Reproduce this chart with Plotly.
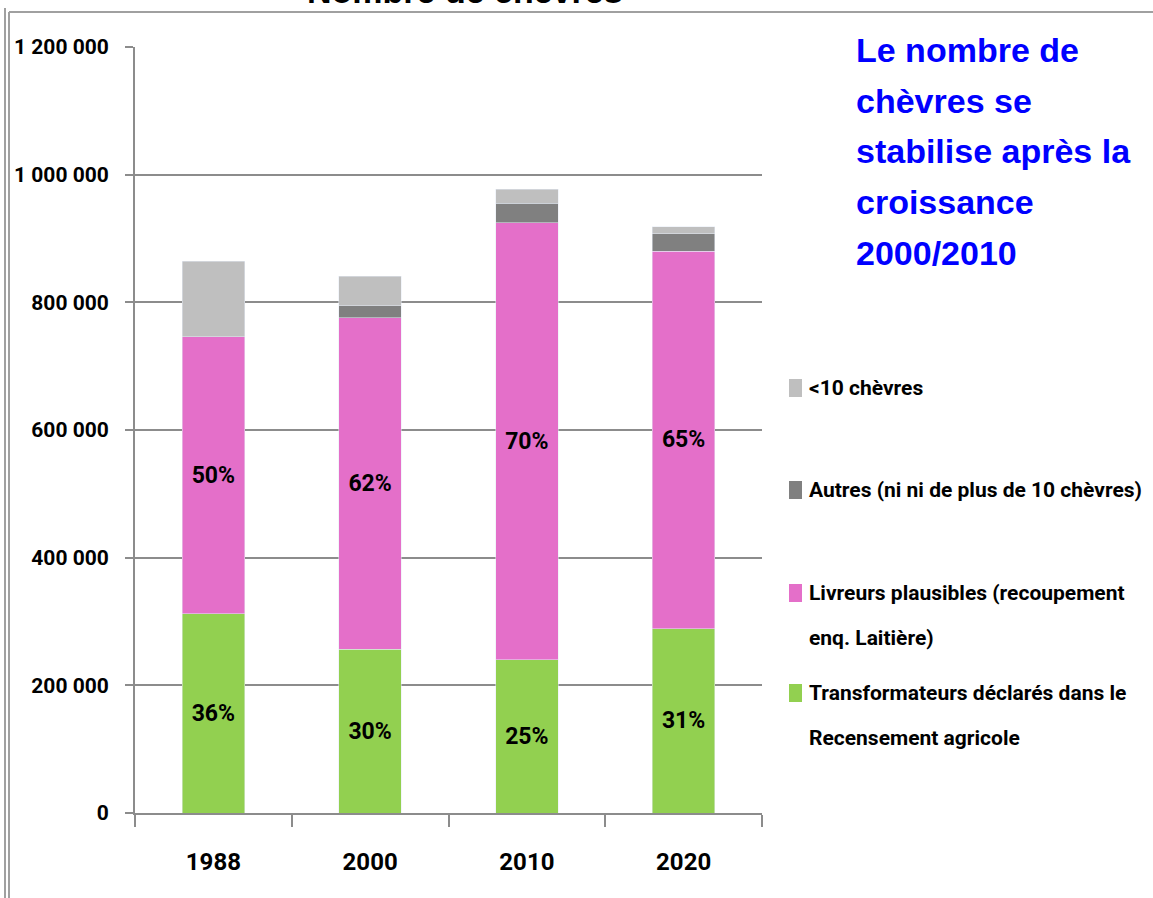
import plotly.graph_objects as go

# ---- data ----
years = ["1988", "2000", "2010", "2020"]
transformateurs = [312000, 256500, 240200, 288300]
livreurs = [434000, 519500, 684600, 592100]
autres = [0, 18300, 30400, 26700]
moins10 = [118600, 46500, 21900, 11400]
pct_transformateurs = ["36%", "30%", "25%", "31%"]
pct_livreurs = ["50%", "62%", "70%", "65%"]

y_tickvals = [0, 200000, 400000, 600000, 800000, 1000000, 1200000]
y_ticktext = ["0", "200 000", "400 000", "600 000", "800 000", "1 000 000", "1 200 000"]

legend_labels = [
    ["<10 chèvres"],
    ["Autres (ni ni de plus de 10 chèvres)"],
    ["Livreurs plausibles (recoupement", "enq. Laitière)"],
    ["Transformateurs déclarés dans le", "Recensement agricole"],
]
comment_lines = ["Le nombre de", "chèvres se", "stabilise après la", "croissance", "2000/2010"]
chart_title = "Nombre de chèvres"

colors = {"green": "#92D050", "pink": "#E46FC9", "dark": "#808080", "light": "#BFBFBF"}

NARROW = "Roboto, Liberation Sans, sans-serif"
WIDE = "Liberation Sans, Arial, sans-serif"

W, H = 1153, 898
L, R, T, B = 135, 762, 47, 813


def px(x):
    return (x - L) / (R - L)


def py(y):
    return (B - y) / (B - T)


label_font = dict(family=NARROW, size=23, color="black", weight="bold")

fig = go.Figure()
fig.add_trace(go.Bar(x=years, y=transformateurs, name="Transformateurs", marker_color=colors["green"],
                     text=pct_transformateurs, textposition="inside", insidetextanchor="middle",
                     textfont=label_font, textangle=0, showlegend=False))
fig.add_trace(go.Bar(x=years, y=livreurs, name="Livreurs", marker_color=colors["pink"],
                     text=pct_livreurs, textposition="inside", insidetextanchor="middle",
                     textfont=label_font, textangle=0, showlegend=False))
fig.add_trace(go.Bar(x=years, y=autres, name="Autres", marker_color=colors["dark"], showlegend=False))
fig.add_trace(go.Bar(x=years, y=moins10, name="<10", marker_color=colors["light"], showlegend=False))

fig.update_layout(
    barmode="stack",
    bargap=0.6,
    width=W, height=H,
    margin=dict(l=L, r=W - R, t=T, b=H - B, autoexpand=False),
    plot_bgcolor="white", paper_bgcolor="white",
    font=dict(family=NARROW, color="black"),
)
fig.update_yaxes(
    range=[0, 1200000], tickvals=y_tickvals, ticktext=y_ticktext,
    showgrid=True, gridcolor="#8C8C8C", gridwidth=2, zeroline=False,
    showline=True, linecolor="#8C8C8C", linewidth=2,
    ticks="outside", ticklen=8, tickcolor="#8C8C8C", tickwidth=2,
    tickfont=dict(family=NARROW, size=21, color="black", weight="bold"),
    ticklabelstandoff=12,
)
fig.update_xaxes(
    showline=True, linecolor="#8C8C8C", linewidth=2,
    ticks="outside", tickson="boundaries", ticklen=12, tickcolor="#8C8C8C", tickwidth=2,
    tickfont=dict(family=NARROW, size=24, color="black", weight="bold"),
    ticklabelstandoff=26,
)

# ---- legend (manual, to match spacing) ----
legend_colors = [colors["light"], colors["dark"], colors["pink"], colors["green"]]
legend_y = [388, 490, 593, 693]
for col, lines, yc in zip(legend_colors, legend_labels, legend_y):
    fig.add_shape(type="rect", xref="paper", yref="paper",
                  x0=px(789), x1=px(802), y0=py(yc + 9), y1=py(yc - 9),
                  fillcolor=col, line=dict(width=0))
    for i, line in enumerate(lines):
        fig.add_annotation(xref="paper", yref="paper", x=px(807), y=py(yc + i * 45),
                           xanchor="left", yanchor="middle", showarrow=False, text=line,
                           font=dict(family=NARROW, size=21, color="black", weight="bold"))

# ---- blue commentary ----
for i, line in enumerate(comment_lines):
    fig.add_annotation(xref="paper", yref="paper", x=px(854), y=py(50 + i * 50.7),
                       xanchor="left", yanchor="middle", showarrow=False, text=line,
                       font=dict(family=WIDE, size=34, color="#0000FF", weight="bold"))

# ---- cut-off chart title ----
fig.add_annotation(xref="paper", yref="paper", x=px(465), y=py(-9),
                   xanchor="center", yanchor="middle", showarrow=False, text=chart_title,
                   font=dict(family=WIDE, size=34, color="black", weight="bold"))

# ---- outer frame lines ----
frame = dict(color="#A0A0A0", width=2)
fig.add_shape(type="line", xref="paper", yref="paper", x0=px(9), x1=px(1160), y0=py(12), y1=py(12), line=frame)
fig.add_shape(type="line", xref="paper", yref="paper", x0=px(9), x1=px(9), y0=py(12), y1=py(905), line=frame)
fig.add_shape(type="line", xref="paper", yref="paper", x0=px(5), x1=px(5), y0=py(8), y1=py(905), line=frame)

post = "document.body.style.margin='0';document.body.style.overflow='hidden';"

fig.write_html("out.html", post_script=post, config={"displayModeBar": False})
